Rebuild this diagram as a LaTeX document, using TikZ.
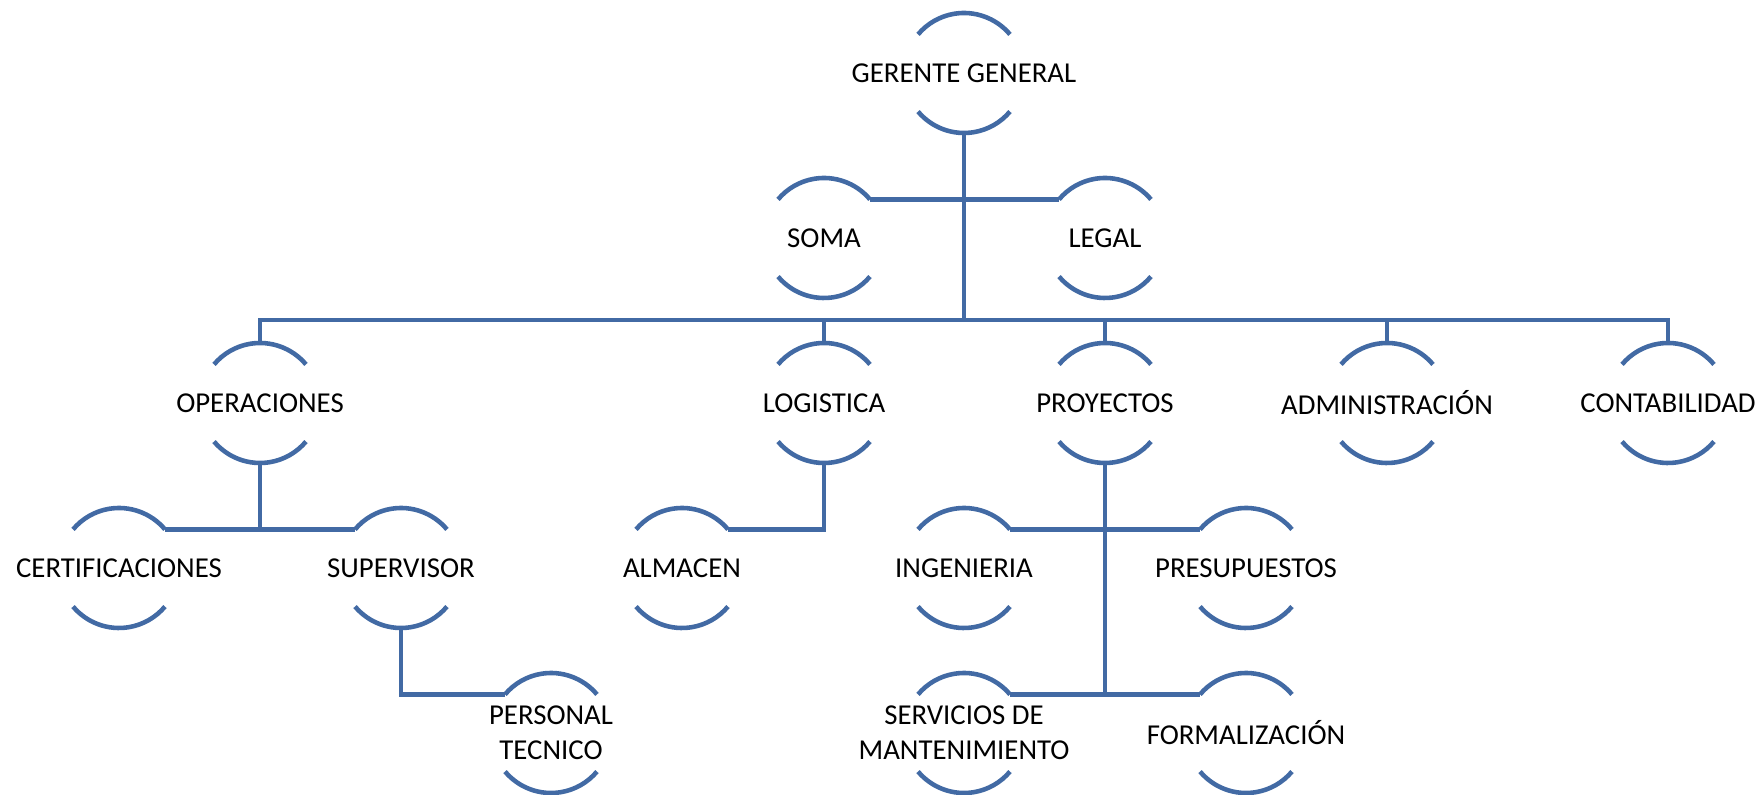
\documentclass[tikz,border=0pt]{standalone}
\usepackage{fontspec}
\setmainfont{Carlito}
\usepackage{tikz}
\usetikzlibrary{positioning}
\definecolor{rimblue}{RGB}{66,106,164}

\tikzset{
  unit/.style={circle, minimum size=1.2cm, inner sep=0pt, outer sep=0pt},
  rim/.style={draw=rimblue, line width=1.3pt},
  link/.style={draw=rimblue, line width=1.3pt}
}

\begin{document}
\begin{tikzpicture}[node distance=1.65cm,on grid,font=\fontsize{8.2}{10}\selectfont]
   \useasboundingbox (0,0) rectangle (17.64,-7.95);

   \node[unit, label=center:GERENTE GENERAL] (gg) at (9.64,-0.73) {};
   \node[unit, label=center:SOMA] (soma) [below left=1.65cm and 1.40cm of gg] {};
   \node[unit, label=center:LEGAL] (legal) [below right=1.65cm and 1.41cm of gg] {};

   \node[unit, label=center:LOGISTICA] (logi) [below=of soma] {};
   \node[unit, label=center:PROYECTOS] (proy) [below=of legal] {};
   \node[unit, label=center:OPERACIONES] (oper) [left=5.64cm of logi] {};
   \node[unit, label=center:ADMINISTRACIÓN] (adm) [right=2.82cm of proy] {};
   \node[unit, label=center:CONTABILIDAD] (cont) [right=2.81cm of adm] {};

   \node[unit, label=center:CERTIFICACIONES] (cert) [below left=1.65cm and 1.41cm of oper] {};
   \node[unit, label=center:SUPERVISOR] (sup) [below right=1.65cm and 1.41cm of oper] {};
   \node[unit, label=center:ALMACEN] (alm) [below left=1.65cm and 1.42cm of logi] {};
   \node[unit, label=center:INGENIERIA] (ing) [below left=1.65cm and 1.41cm of proy] {};
   \node[unit, label=center:PRESUPUESTOS] (pres) [below right=1.65cm and 1.41cm of proy] {};

   \node[unit, label={[align=center]center:PERSONAL\\TECNICO}] (pers) [below right=1.65cm and 1.50cm of sup] {};
   \node[unit, label={[align=center]center:SERVICIOS DE\\MANTENIMIENTO}] (serv) [below=of ing] {};
   \node[unit, label=center:FORMALIZACIÓN] (form) [below=of pres] {};

   % half-open rings round every label
   \foreach \n in {gg,soma,legal,oper,logi,proy,adm,cont,cert,sup,alm,ing,pres,pers,serv,form}
      \draw[rim] (\n.40) arc[start angle=40,end angle=140,radius=0.6cm]
                 (\n.220) arc[start angle=220,end angle=320,radius=0.6cm];

   % main bus
   \path (logi.north) ++(0,0.23) coordinate (bus);
   \draw[link] (gg.south) -- (gg.south |- bus);
   \draw[link] (oper.north) -- (oper.north |- bus) -- (cont.north |- bus) -- (cont.north);
   \foreach \n in {logi,proy,adm}
      \draw[link] (\n.north) -- (\n.north |- bus);
   \draw[link] (soma.40) -- (legal.140);

   % branches
   \draw[link] (oper.south) -- (oper.south |- cert.40);
   \draw[link] (cert.40) -- (sup.140);
   \draw[link] (sup.south) |- (pers.140);
   \draw[link] (logi.south) |- (alm.40);
   \draw[link] (proy.south) -- (proy.south |- serv.40);
   \draw[link] (ing.40) -- (pres.140);
   \draw[link] (serv.40) -- (form.140);
\end{tikzpicture}
\end{document}
